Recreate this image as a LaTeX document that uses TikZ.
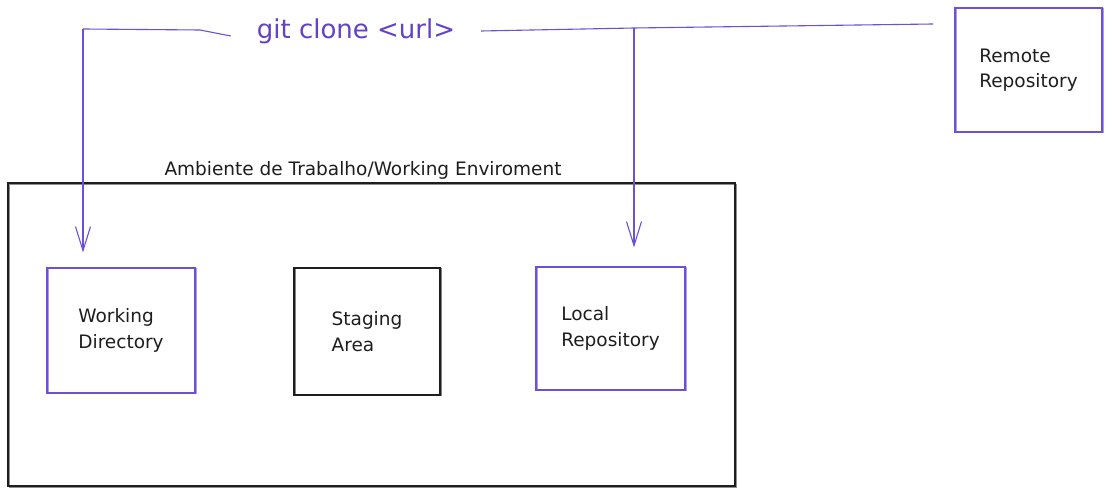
\documentclass[tikz,border=0pt]{standalone}
\usepackage{fontspec}
\setmainfont{DejaVu Sans}
\usetikzlibrary{arrows.meta}
\definecolor{violetline}{RGB}{108,80,215}
\definecolor{violettext}{RGB}{98,66,200}
\definecolor{inkline}{RGB}{30,30,30}
\tikzset{
  sketch/.style={line width=1.1pt, postaction={draw, opacity=0.55, line width=0.7pt, transform canvas={shift={(0.9pt,-0.8pt)}}}},
  violetbox/.style={draw=violetline, sketch, align=left, inner sep=0pt, font=\fontsize{18.5}{25.5}\selectfont, text=inkline},
  blackbox/.style={draw=inkline, sketch, align=left, inner sep=0pt, font=\fontsize{18.5}{25.5}\selectfont, text=inkline},
  conn/.style={draw=violetline, line width=1.1pt},
  tip/.style={-{Straight Barb[length=24pt,width=15pt,line width=1.1pt]}},
}
\begin{document}
\begin{tikzpicture}[x=1pt,y=-1pt]
\useasboundingbox[fill=white] (0,0) rectangle (1112,494);
% outer environment
\node[draw=inkline, line width=1.1pt, postaction={draw, opacity=0.5, line width=0.7pt, transform canvas={shift={(0.9pt,-1pt)}}}, minimum width=727pt, minimum height=303pt, inner sep=0pt] (env) at (371.5,334.5) {};
\node[font=\fontsize{18.5}{22}\selectfont, text=inkline, anchor=south, inner sep=0pt] (envlabel) at (363,180) {Ambiente de Trabalho/Working Enviroment};
% boxes
\node[violetbox, minimum width=148pt, minimum height=125pt] (wd) at (121,330.5) {Working\\Directory};
\node[blackbox, minimum width=146pt, minimum height=127pt] (sa) at (367,331.5) {Staging\\Area};
\node[violetbox, minimum width=149pt, minimum height=123pt] (lr) at (610.5,328.5) {Local\\Repository};
\node[violetbox, minimum width=147pt, minimum height=124pt] (rr) at (1028.5,70) {Remote\\Repository};
% label
\node[font=\fontsize{26}{28}\selectfont, text=violettext, inner sep=0pt, minimum width=250pt] (clone) at (356,31) {git clone <url>};
% connectors
\coordinate (r1) at (933,24);
\coordinate (j1) at (634,28);
\coordinate (c1) at (83,29);
\coordinate (c2) at (200,30);
\draw[conn] (r1) -- (j1) -- (clone.east);
\draw[conn] ([yshift=-5pt]clone.west) -- (c2) -- (c1);
\draw[conn, tip, shorten >=15pt] (c1) -- (c1 |- wd.north);
\draw[conn, tip, shorten >=19pt] (j1) -- (j1 |- lr.north);
\end{tikzpicture}
\end{document}
